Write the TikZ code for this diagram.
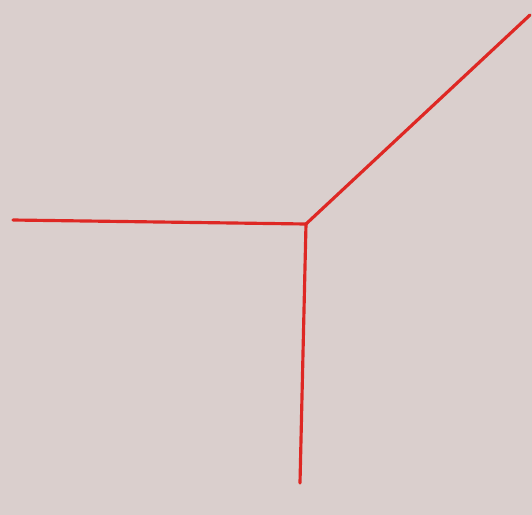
\documentclass[tikz,border=0pt]{standalone}
\usepackage{tikz}

\definecolor{paper}{RGB}{218,207,205}
\definecolor{redink}{RGB}{222,40,36}

\begin{document}
\begin{tikzpicture}[
  x=0.02cm, y=-0.02cm,
  edge/.style={draw=redink, line width=1.8pt, line cap=round}
]
\fill[paper] (0,0) rectangle (532,515);
\useasboundingbox (0,0) rectangle (532,515);

\coordinate (junction) at (306,224);
\coordinate (west) at (13,220);
\coordinate (northeast) at (530,15);
\coordinate (south) at (300,483);

\draw[edge] (west) -- (junction);
\draw[edge] (junction) -- (northeast);
\draw[edge] (junction) -- (south);
\end{tikzpicture}
\end{document}
